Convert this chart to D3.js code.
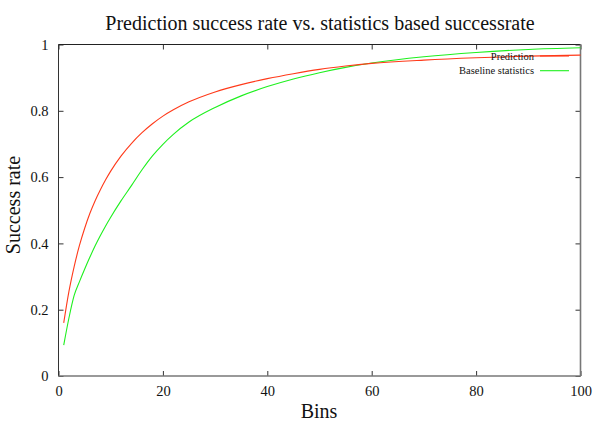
<!DOCTYPE html>
<html><head><meta charset="utf-8">
<script src="https://cdn.jsdelivr.net/npm/d3@7"></script>
<style>body{margin:0;background:#fff}svg{display:block}text{font-family:"Liberation Serif","DejaVu Serif",serif}</style>
</head><body><svg id="c" width="600" height="421"></svg>
<script>
const title = "Prediction success rate vs. statistics based successrate";
const xLabel = "Bins";
const yLabel = "Success rate";
const seriesNames = ["Prediction", "Baseline statistics"];
const xTicks = [0, 20, 40, 60, 80, 100];
const yTicks = [0, 0.2, 0.4, 0.6, 0.8, 1];
const predBins = [1,2,3,4,5,6,7,8,9,10,12,14,16,18,20,22,25,30,35,40,45,50,55,60,70,80,90,100];
const predVals = [0.16,0.255,0.33,0.393,0.445,0.49,0.528,0.561,0.591,0.618,0.664,0.702,0.734,0.761,0.784,0.803,0.827,0.857,0.879,0.897,0.912,0.925,0.935,0.943,0.953,0.96,0.965,0.968];
const baseBins = [1,2,3,4,5,6,7,8,9,10,12,14,16,18,20,22,25,30,35,40,45,50,55,60,70,80,90,100];
const baseVals = [0.093,0.175,0.243,0.284,0.322,0.358,0.392,0.423,0.452,0.479,0.529,0.575,0.622,0.664,0.699,0.729,0.766,0.81,0.845,0.873,0.896,0.915,0.931,0.944,0.963,0.976,0.985,0.99];

const svg = d3.select("#c");
const L = 58.5, R = 580.5, T = 44.5, B = 376;
const x = d3.scaleLinear().domain([0, 100]).range([L, R]);
const y = d3.scaleLinear().domain([0, 1]).range([B, T]);

// title
svg.append("text").attr("x", 320).attr("y", 30).attr("text-anchor", "middle")
  .attr("font-size", 20).attr("fill", "#111").text(title);

// axes
const fmt = d => d3.format("")(d);
const gB = svg.append("g").attr("transform", `translate(0,${B})`)
  .call(d3.axisBottom(x).tickValues(xTicks).tickSizeInner(-5).tickSizeOuter(0).tickPadding(10).tickFormat(fmt));
const gT = svg.append("g").attr("transform", `translate(0,${T})`)
  .call(d3.axisTop(x).tickValues(xTicks).tickSizeInner(-5).tickSizeOuter(0).tickFormat(""));
const gL = svg.append("g").attr("transform", `translate(${L},0)`)
  .call(d3.axisLeft(y).tickValues(yTicks).tickSizeInner(-5).tickSizeOuter(0).tickPadding(10).tickFormat(fmt));
const gR = svg.append("g").attr("transform", `translate(${R},0)`)
  .call(d3.axisRight(y).tickValues(yTicks).tickSizeInner(-5).tickSizeOuter(0).tickFormat(""));
[gB, gT, gL, gR].forEach(g => {
  g.select(".domain").remove();
  g.selectAll(".tick line").attr("stroke", "#333");
  g.selectAll(".tick text").attr("font-size", 14.5).attr("fill", "#111")
    .attr("font-family", "Liberation Serif, serif");
});
// border
svg.append("line").attr("x1", L).attr("x2", R).attr("y1", T).attr("y2", T).attr("stroke", "#222");
svg.append("line").attr("x1", L).attr("x2", L).attr("y1", T).attr("y2", B).attr("stroke", "#333");
svg.append("line").attr("x1", L).attr("x2", R).attr("y1", B).attr("y2", B).attr("stroke", "#777").attr("stroke-width", 1.6);
svg.append("line").attr("x1", R).attr("x2", R).attr("y1", T).attr("y2", B).attr("stroke", "#777").attr("stroke-width", 1.6);

// axis labels
svg.append("text").attr("x", 319).attr("y", 418).attr("text-anchor", "middle")
  .attr("font-size", 20).attr("fill", "#111").text(xLabel);
svg.append("text").attr("transform", "translate(20,205) rotate(-90)").attr("text-anchor", "middle")
  .attr("font-size", 20).attr("fill", "#111").text(yLabel);

// lines
const colors = ["#ff3a1a", "#1ef01e"];
const line = d3.line().x(d => x(d[0])).y(d => y(d[1])).curve(d3.curveMonotoneX);
const predData = predBins.map((b, i) => [b, predVals[i]]);
const baseData = baseBins.map((b, i) => [b, baseVals[i]]);
svg.append("path").datum(baseData).attr("d", line).attr("fill", "none")
  .attr("stroke", colors[1]).attr("stroke-width", 1.1);
svg.append("path").datum(predData).attr("d", line).attr("fill", "none")
  .attr("stroke", colors[0]).attr("stroke-width", 1.1);

// legend
const lg = svg.append("g");
seriesNames.forEach((n, i) => {
  const yy = 56 + i * 14.7;
  lg.append("text").attr("x", 534).attr("y", yy + 3.5).attr("text-anchor", "end")
    .attr("font-size", 10.5).attr("fill", "#111").text(n);
  lg.append("line").attr("x1", 540).attr("x2", 569).attr("y1", yy).attr("y2", yy)
    .attr("stroke", colors[i]).attr("stroke-width", 1.1);
});
</script></body></html>
